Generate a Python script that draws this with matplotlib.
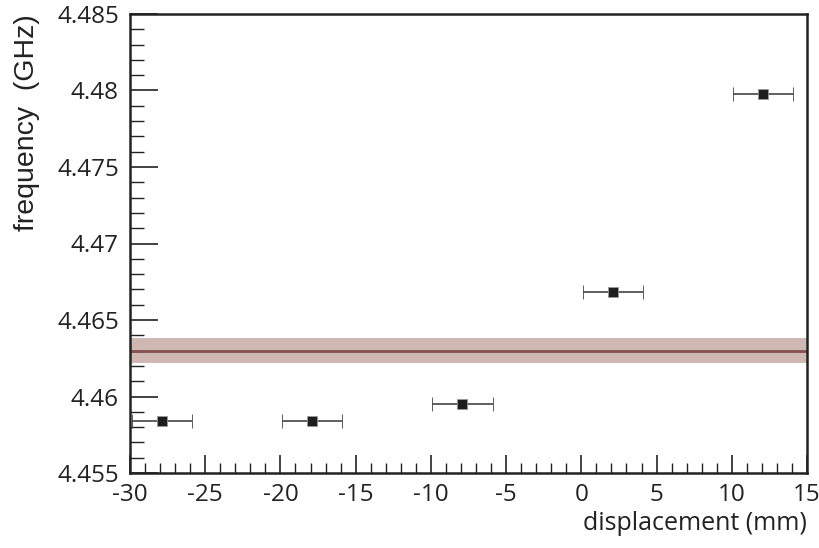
import matplotlib.pyplot as plt
from matplotlib.ticker import MultipleLocator

plt.rcParams['font.family'] = ['Open Sans', 'DejaVu Sans']
plt.rcParams['axes.unicode_minus'] = False

# data
displacement = [-27.9, -17.9, -7.9, 2.1, 12.1]
disp_err = [2.0, 2.0, 2.0, 2.0, 2.0]
frequency = [4.4584, 4.4584, 4.4595, 4.4668, 4.4798]
ref_freq = 4.4630
ref_err = 0.0008

fig = plt.figure(figsize=(8.2, 5.48), dpi=100)
ax = fig.add_axes([130 / 820, 1 - 473 / 548, 677 / 820, 459 / 548])

ax.axhspan(ref_freq - ref_err, ref_freq + ref_err, color='#cfb8b4', lw=0, zorder=1)
ax.axhline(ref_freq, color='#874f4f', lw=2, zorder=2)

ax.errorbar(displacement, frequency, xerr=disp_err, fmt='s', color='#1e1e1e',
            ecolor='#444444', elinewidth=1.2, capsize=5, capthick=1.2,
            markersize=7, markeredgecolor='#999999', markeredgewidth=0.6,
            zorder=3, clip_on=True)

ax.set_xlim(-30, 15)
ax.set_ylim(4.455, 4.485)
ax.xaxis.set_major_locator(MultipleLocator(5))
ax.xaxis.set_minor_locator(MultipleLocator(1))
ax.yaxis.set_major_locator(MultipleLocator(0.005))
ax.yaxis.set_minor_locator(MultipleLocator(0.001))
ax.yaxis.set_major_formatter(plt.FuncFormatter(lambda v, p: f'{v:.3f}'.rstrip('0')))

ax.tick_params(which='both', direction='in', top=False, right=False,
               labelsize=17.5, colors='#222222')
ax.tick_params(axis='y', which='major', length=20, width=1.2, pad=8)
ax.tick_params(axis='y', which='minor', length=10, width=1)
ax.tick_params(axis='x', which='major', length=13, width=1.2, pad=7)
ax.tick_params(axis='x', which='minor', length=7, width=1)
for s in ax.spines.values():
    s.set_linewidth(1.8)
    s.set_color('#222222')

ax.set_xlabel('displacement (mm)', fontsize=18, color='#222222', loc='right', labelpad=3)
ax.set_ylabel('frequency  (GHz)', fontsize=20.5, color='#222222', loc='top', labelpad=12,
              family=['Liberation Sans', 'DejaVu Sans'])

fig.savefig('out.png', dpi=100)
